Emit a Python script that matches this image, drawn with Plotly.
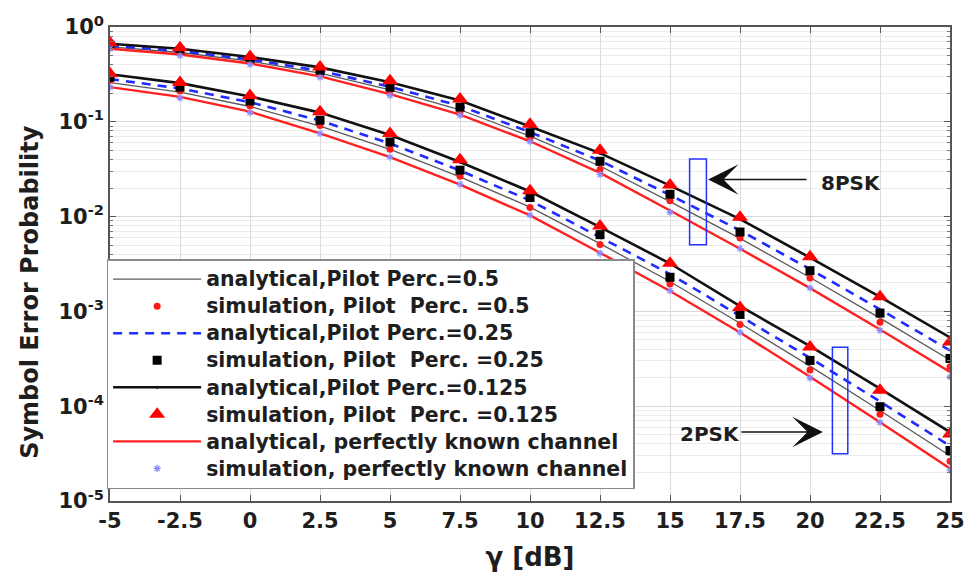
import plotly.graph_objects as go

snr_db = [-5, -2.5, 0, 2.5, 5, 7.5, 10, 12.5, 15, 17.5, 20, 22.5, 25]

# 8PSK (upper group)
psk8_ana_p5 = [0.616, 0.538, 0.436, 0.326, 0.217, 0.134, 0.0706, 0.0342, 0.0144, 0.00589, 0.00228, 8.49e-4, 3.08e-4]
psk8_ana_p25 = [0.636, 0.559, 0.454, 0.345, 0.234, 0.147, 0.0778, 0.0389, 0.0169, 0.00715, 0.00279, 0.00105, 3.87e-4]
psk8_ana_p125 = [0.666, 0.590, 0.482, 0.375, 0.262, 0.168, 0.0891, 0.0467, 0.0212, 0.00940, 0.00369, 0.00142, 5.32e-4]
psk8_ana_perf = [0.590, 0.512, 0.412, 0.302, 0.196, 0.119, 0.0623, 0.0289, 0.0116, 0.00458, 0.00176, 6.44e-4, 2.30e-4]
psk8_sim_p5 = [0.612, 0.537, 0.433, 0.317, 0.211, 0.127, 0.0669, 0.0313, 0.0147, 0.00596, 0.00225, 7.67e-4, 2.61e-4]
psk8_sim_p25 = [0.642, 0.563, 0.454, 0.343, 0.232, 0.143, 0.0767, 0.0383, 0.0172, 0.00688, 0.00269, 9.60e-4, 3.19e-4]
psk8_sim_p125 = [0.682, 0.605, 0.488, 0.379, 0.271, 0.174, 0.0942, 0.0502, 0.0215, 0.00986, 0.00378, 0.00143, 4.75e-4]
psk8_sim_perf = [0.590, 0.499, 0.403, 0.295, 0.189, 0.117, 0.0618, 0.0278, 0.0111, 0.00461, 0.00177, 6.29e-4, 2.04e-4]

# 2PSK (lower group)
psk2_ana_p5 = [0.259, 0.206, 0.145, 0.0899, 0.0512, 0.0263, 0.0126, 0.00518, 0.00207, 7.51e-4, 2.65e-4, 9.02e-5, 3.00e-5]
psk2_ana_p25 = [0.282, 0.225, 0.161, 0.103, 0.0590, 0.0306, 0.0148, 0.00612, 0.00248, 8.94e-4, 3.23e-4, 1.12e-4, 3.81e-5]
psk2_ana_p125 = [0.317, 0.256, 0.185, 0.125, 0.0724, 0.0377, 0.0184, 0.00776, 0.00320, 0.00114, 4.29e-4, 1.53e-4, 5.34e-5]
psk2_ana_perf = [0.232, 0.183, 0.128, 0.0754, 0.0424, 0.0217, 0.0103, 0.00416, 0.00164, 5.99e-4, 2.04e-4, 6.79e-5, 2.20e-5]
psk2_sim_p5 = [0.275, 0.211, 0.147, 0.0913, 0.0514, 0.0267, 0.0125, 0.00508, 0.00195, 7.26e-4, 2.41e-4, 8.22e-5, 2.62e-5]
psk2_sim_p25 = [0.295, 0.232, 0.166, 0.104, 0.0612, 0.0309, 0.0159, 0.00645, 0.00229, 9.29e-4, 3.04e-4, 9.88e-5, 3.41e-5]
psk2_sim_p125 = [0.322, 0.260, 0.189, 0.128, 0.0754, 0.0398, 0.0187, 0.00795, 0.00322, 0.00110, 4.21e-4, 1.47e-4, 5.09e-5]
psk2_sim_perf = [0.232, 0.178, 0.125, 0.0754, 0.0424, 0.0219, 0.0104, 0.00410, 0.00166, 6.04e-4, 1.98e-4, 6.74e-5, 2.11e-5]

legend_names = [
    "analytical,Pilot Perc.=0.5",
    "simulation, Pilot  Perc. =0.5",
    "analytical,Pilot Perc.=0.25",
    "simulation, Pilot  Perc. =0.25",
    "analytical,Pilot Perc.=0.125",
    "simulation, Pilot  Perc. =0.125",
    "analytical, perfectly known channel",
    "simulation, perfectly known channel",
]

x_ticks = [-5, -2.5, 0, 2.5, 5, 7.5, 10, 12.5, 15, 17.5, 20, 22.5, 25]
y_ticks = [1, 0.1, 0.01, 0.001, 0.0001, 0.00001]
y_ticktext = ["10<sup>0</sup>", "10<sup>-1</sup>", "10<sup>-2</sup>", "10<sup>-3</sup>", "10<sup>-4</sup>", "10<sup>-5</sup>"]


def both(a, b):
    return snr_db + [None] + snr_db, a + [None] + b


series = [
    (psk8_ana_p5, psk2_ana_p5, dict(mode="lines", line=dict(color="#5a5a5a", width=1.3))),
    (psk8_sim_p5, psk2_sim_p5, dict(mode="markers", marker=dict(symbol="circle", size=7, color="#ff1a1a"))),
    (psk8_ana_p25, psk2_ana_p25, dict(mode="lines", line=dict(color="#1f2bff", width=2.6, dash="9px,7px"))),
    (psk8_sim_p25, psk2_sim_p25, dict(mode="markers", marker=dict(symbol="square", size=9, color="black"))),
    (psk8_ana_p125, psk2_ana_p125, dict(mode="lines+markers", line=dict(color="#111111", width=2.6),
                                         marker=dict(symbol="circle", size=3, color="#111111"))),
    (psk8_sim_p125, psk2_sim_p125, dict(mode="markers", marker=dict(symbol="triangle-up", size=14, color="#ff0000"))),
    (psk8_ana_perf, psk2_ana_perf, dict(mode="lines", line=dict(color="#ff2020", width=2.4))),
    (psk8_sim_perf, psk2_sim_perf, dict(mode="markers", marker=dict(symbol="asterisk-open", size=6, color="#8a8aff",
                                                                     line=dict(color="#8a8aff", width=1.2)))),
]

fig = go.Figure()
for i, (a, b, style) in enumerate(series):
    xs, ys = both(a, b)
    fig.add_trace(go.Scatter(
        x=xs, y=ys,
        name='<span style="font-size:20.5px">' + legend_names[i] + "</span>",
        legendgroup=f"g{i}", connectgaps=False, **style))

minor_vals = [m * 10 ** e for e in range(-5, 0) for m in range(2, 10)]

font_family = "'DejaVu Sans', Verdana, sans-serif"
ink = "#1e1e1e"

fig.update_layout(
    width=977, height=579,
    margin=dict(l=110, r=15, t=22, b=77),
    paper_bgcolor="white", plot_bgcolor="white",
    font=dict(family=font_family, color=ink),
    showlegend=True,
    legend=dict(
        x=-0.004, y=0.5104, xanchor="left", yanchor="top",
        bgcolor="white", bordercolor="#8a8a8a", borderwidth=1.5,
        font=dict(family=font_family, size=18.5, color=ink, weight="bold"),
        itemwidth=88, traceorder="grouped", tracegroupgap=0,
        itemsizing="trace",
    ),
)

fig.update_xaxes(
    range=[-5, 25], tickvals=x_ticks, ticktext=[("%g" % v) for v in x_ticks],
    showgrid=True, gridcolor="#dcdcdc", gridwidth=1,
    showline=True, linecolor="#555555", linewidth=1.5, mirror="ticks",
    ticks="inside", ticklen=6, tickcolor="#555555",
    tickfont=dict(family=font_family, size=21, color=ink, weight="bold"),
    title=dict(text="γ [dB]", font=dict(family=font_family, size=26, color=ink, weight="bold"), standoff=16),
    zeroline=False,
)
fig.update_yaxes(
    type="log", range=[-5, 0], tickvals=y_ticks, ticktext=y_ticktext,
    showgrid=True, gridcolor="#d8d8d8", gridwidth=1,
    minor=dict(tickvals=minor_vals, showgrid=True, gridcolor="#ececec", ticks="inside", ticklen=3, tickcolor="#777777"),
    showline=True, linecolor="#555555", linewidth=1.5, mirror="ticks",
    ticks="inside", ticklen=6, tickcolor="#555555",
    tickfont=dict(family=font_family, size=21, color=ink, weight="bold"),
    zeroline=False,
)

# Y axis title placed as rotated text (it sits slightly below the plot centre in the reference)
fig.add_annotation(x=-0.0962, y=0.4417, xref="paper", yref="paper", text="Symbol Error Probability",
                   textangle=-90, showarrow=False, xanchor="center", yanchor="middle",
                   font=dict(family=font_family, size=24, color=ink, weight="bold"))

# Blue boxes marking groups
fig.add_shape(type="rect", xref="x", yref="y", x0=15.7, x1=16.3, y0=0.00505, y1=0.0405,
              line=dict(color="#2233ff", width=1.5), fillcolor="rgba(0,0,0,0)")
fig.add_shape(type="rect", xref="x", yref="y", x0=20.8, x1=21.35, y0=3.15e-5, y1=4.18e-4,
              line=dict(color="#2233ff", width=1.5), fillcolor="rgba(0,0,0,0)")

# Arrows and labels (annotation positions on log axis are log10 values)
fig.add_annotation(x=16.36, y=-1.608, xref="x", yref="y", ax=100, ay=0, text="",
                   showarrow=True, arrowhead=3, arrowsize=3.4, arrowwidth=1.5, arrowcolor="#111111", standoff=0)
fig.add_annotation(x=21.45, y=-1.642, xref="x", yref="y", text="8PSK", showarrow=False,
                   font=dict(family=font_family, size=20, color=ink, weight="bold"))
fig.add_annotation(x=20.46, y=-4.272, xref="x", yref="y", ax=-83, ay=0, text="",
                   showarrow=True, arrowhead=3, arrowsize=3.4, arrowwidth=1.5, arrowcolor="#111111", standoff=0)
fig.add_annotation(x=16.44, y=-4.293, xref="x", yref="y", text="2PSK", showarrow=False,
                   font=dict(family=font_family, size=20, color=ink, weight="bold"))

fig.write_html("out.html")
